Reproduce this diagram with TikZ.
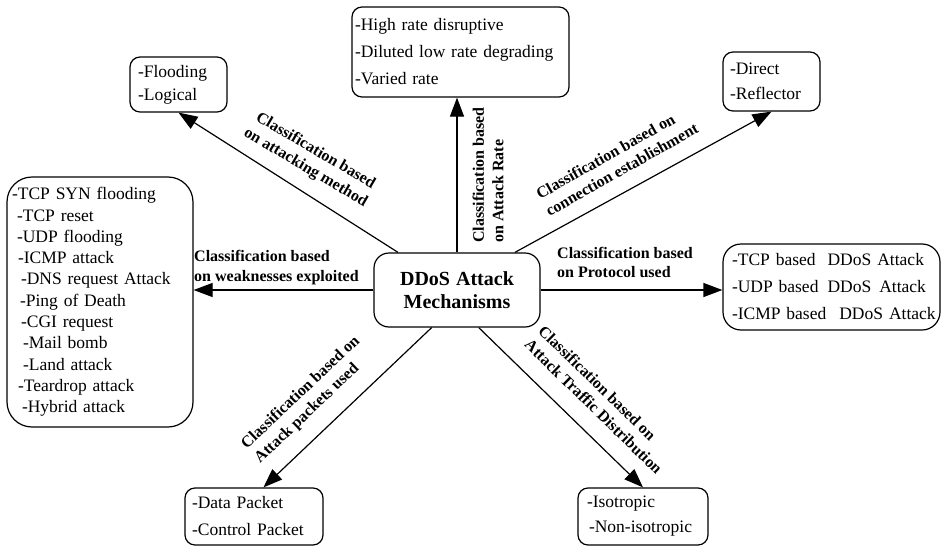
\documentclass[tikz,border=0pt]{standalone}
\usepackage{fontspec}
\setmainfont{Liberation Serif}
\usetikzlibrary{arrows.meta}

\begin{document}
\begin{tikzpicture}[x=1pt, y=-1pt,
    box/.style={draw, line width=1.2pt, rounded corners=10pt, align=left,
      inner ysep=0pt, font=\fontsize{17.5}{27}\selectfont},
    lbl/.style={inner sep=0pt, font=\bfseries\fontsize{16}{19.5}\selectfont},
    link/.style={line width=1.2pt, -{Triangle[length=19pt,width=14pt]}}]
  \useasboundingbox (0,0) rectangle (942,546);

  % centre
  \node[box, align=center, rounded corners=15pt, minimum width=166, minimum height=74,
    font=\bfseries\fontsize{20}{23}\selectfont] (ddos) at (457,290)
    {DDoS\hspace{6pt}Attack\\Mechanisms};

  % boxes round it
  \node[box, inner xsep=8, text width=81, minimum height=55,
    font=\fontsize{17.5}{23}\selectfont] (flood) at (178.5,84.5) {-Flooding\\-Logical};
  \node[box, inner xsep=3, text width=211, minimum height=90] (rate) at (460.5,52)
    {-High rate disruptive\\-Diluted low rate degrading\\-Varied rate};
  \node[box, inner xsep=7, text width=83, minimum height=59,
    font=\fontsize{17.5}{25}\selectfont] (direct) at (771.5,81.5) {-Direct\\-Reflector};
  \node[box, rounded corners=25pt, inner xsep=10, text width=166, minimum height=250,
    font=\fontsize{17.5}{21.3}\selectfont] (weak) at (100,302)
    {\hspace*{-5pt}-TCP SYN flooding\\-TCP reset\\-UDP flooding\\
     \hspace*{1pt}-ICMP attack\\\hspace*{4pt}-DNS request Attack\\
     \hspace*{3pt}-Ping of Death\\\hspace*{4pt}-CGI request\\
     \hspace*{6pt}-Mail bomb\\\hspace*{6pt}-Land attack\\
     \hspace*{1pt}-Teardrop attack\\\hspace*{5pt}-Hybrid attack};
  \node[box, rounded corners=18pt, inner xsep=9, text width=199, minimum height=86] (proto)
    at (831.5,287)
    {\mbox{-TCP based\hspace{12pt}DDoS\hspace{6pt}Attack}\\
     \mbox{-UDP based\hspace{9pt}DDoS\hspace{8pt}Attack}\\
     \mbox{-ICMP based\hspace{13pt}DDoS\hspace{6pt}Attack}};
  \node[box, inner xsep=7, text width=124, minimum height=57] (packet) at (254,516.5)
    {-Data Packet\\-Control Packet};
  \node[box, inner xsep=9, text width=112, minimum height=57,
    font=\fontsize{17.5}{25}\selectfont] (traffic) at (643,516.5)
    {-Isotropic\\\hspace*{2pt}-Non-isotropic};

  % arrows
  \draw[link] (ddos) -- (flood.south);
  \draw[link] (ddos.north) -- (ddos.north |- rate.south);
  \draw[link] (ddos.33) -- (direct.south);
  \draw[link] (ddos.west) -- (ddos.west -| weak.east);
  \draw[link] (ddos.east) -- (ddos.east -| proto.west);
  \draw[link] (ddos.-124) -- (packet.72);
  \draw[link] (ddos.-60) -- (traffic.north);

  % labels
  \node[lbl, align=center, rotate=-30.5] (lmethod) at (310.5,159.5)
    {Classification based\\on attacking method};
  \node[lbl, align=left, rotate=90] (lrate) at (488,175)
    {Classification based\\on Attack Rate};
  \node[lbl, align=left, rotate=29.5] (lconn) at (617,161)
    {Classification based on\\connection establishment};
  \node[lbl, align=left, anchor=west] (lweak) at (194,267.5)
    {Classification based\\on weaknesses exploited};
  \node[lbl, align=left, anchor=west] (lproto) at (557,262.5)
    {Classification based\\on Protocol used};
  \node[lbl, align=left, rotate=43.5] (lpacket) at (307.5,400)
    {Classification based on\\Attack packets used};
  \node[lbl, align=left, rotate=-44.3] (ltraffic) at (600.5,399.5)
    {Classification based on\\Attack Traffic Distribution};
\end{tikzpicture}
\end{document}
